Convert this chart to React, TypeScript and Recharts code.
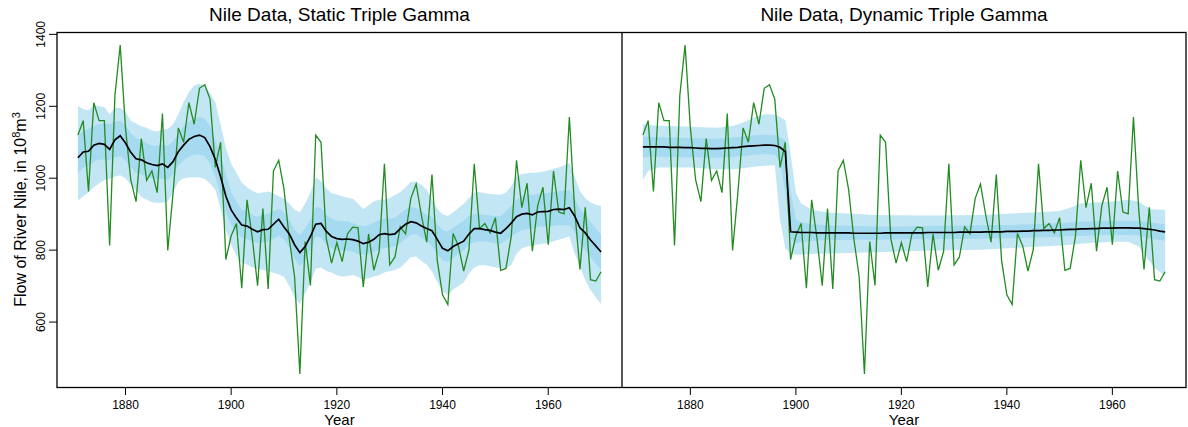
import React from 'react';
import { ComposedChart, Line, Area, XAxis, YAxis } from 'recharts';

const FIRST_YEAR = 1871;

// Annual flow of the Nile at Aswan, 1871-1970
const nileFlow = [
  1120, 1160, 963, 1210, 1160, 1160, 813, 1230, 1370, 1140,
  995, 935, 1110, 994, 1020, 960, 1180, 799, 958, 1140,
  1100, 1210, 1150, 1250, 1260, 1220, 1030, 1100, 774, 840,
  874, 694, 940, 833, 701, 916, 692, 1020, 1050, 969,
  831, 726, 456, 824, 702, 1120, 1100, 832, 764, 821,
  768, 845, 864, 862, 698, 845, 744, 796, 1040, 759,
  781, 865, 845, 944, 984, 897, 822, 1010, 771, 676,
  649, 846, 812, 742, 801, 1040, 860, 874, 848, 890,
  744, 749, 838, 1050, 918, 986, 797, 923, 975, 815,
  1020, 906, 901, 1170, 912, 746, 919, 718, 714, 740,
];

// Static triple gamma: fitted level and bands
const staticFit = [
  1057, 1073, 1075, 1092, 1097, 1094, 1080, 1107, 1118, 1098,
  1072, 1054, 1051, 1043, 1038, 1035, 1040, 1030, 1046, 1074,
  1092, 1108, 1116, 1120, 1113, 1088, 1052, 1004, 950, 912,
  889, 870, 867, 858, 851, 857, 858, 872, 886, 864,
  845, 815, 793, 810, 838, 872, 874, 852, 838, 832,
  830, 831, 829, 825, 818, 822, 830, 843, 846, 843,
  845, 860, 872, 879, 876, 867, 860, 854, 830, 805,
  798, 810, 818, 825, 845, 860, 860, 857, 855, 850,
  847, 860, 875, 893, 900, 902, 898, 906, 907, 908,
  913, 914, 913, 918, 895, 862, 848, 828, 812, 795,
];
const staticOuterLo = [
  938, 950, 960, 975, 985, 995, 998, 1005, 1008, 1000,
  982, 965, 948, 940, 933, 932, 932, 935, 960, 990,
  1000, 1002, 1003, 1002, 998, 985, 968, 915, 855, 815,
  785, 765, 760, 752, 748, 745, 741, 737, 732, 725,
  700, 668, 650, 680, 710, 748, 752, 742, 738, 730,
  727, 728, 731, 725, 717, 722, 727, 730, 738, 742,
  745, 752, 765, 780, 782, 770, 760, 740, 712, 685,
  676, 690, 700, 710, 735, 752, 758, 758, 755, 752,
  750, 750, 758, 790, 805, 810, 812, 816, 818, 820,
  825, 829, 834, 838, 790, 755, 717, 690, 668, 650,
];
const staticOuterHi = [
  1201, 1192, 1188, 1203, 1200, 1198, 1178, 1195, 1195, 1185,
  1160, 1152, 1144, 1140, 1133, 1130, 1135, 1137, 1150, 1178,
  1212, 1240, 1258, 1263, 1257, 1236, 1212, 1150, 1085, 1040,
  1015, 988, 975, 965, 958, 960, 963, 958, 950, 943,
  930, 912, 905, 930, 960, 1003, 992, 972, 958, 955,
  950, 946, 943, 930, 914, 925, 936, 940, 940, 945,
  953, 962, 975, 990, 990, 982, 968, 940, 915, 900,
  895, 905, 917, 928, 945, 960, 962, 958, 956, 955,
  954, 960, 977, 1005, 1012, 1014, 1015, 1016, 1018, 1022,
  1026, 1030, 1036, 1042, 1005, 965, 944, 933, 926, 923,
];
const staticInnerLo = [
  1014, 1030, 1035, 1045, 1052, 1052, 1050, 1058, 1062, 1050,
  1030, 1015, 1010, 1005, 1000, 998, 998, 996, 1010, 1035,
  1050, 1060, 1065, 1066, 1062, 1040, 1005, 955, 905, 870,
  850, 835, 830, 824, 820, 822, 824, 832, 840, 830,
  808, 776, 755, 775, 800, 838, 835, 815, 805, 800,
  798, 798, 796, 790, 787, 790, 795, 802, 806, 808,
  810, 820, 832, 842, 845, 835, 824, 812, 790, 772,
  768, 778, 790, 800, 815, 822, 824, 824, 821, 819,
  818, 826, 838, 848, 855, 858, 860, 864, 866, 867,
  868, 869, 869, 870, 850, 820, 800, 780, 762, 745,
];
const staticInnerHi = [
  1120, 1132, 1137, 1145, 1150, 1152, 1150, 1158, 1160, 1148,
  1125, 1112, 1105, 1098, 1092, 1090, 1093, 1090, 1102, 1125,
  1145, 1158, 1165, 1170, 1165, 1145, 1105, 1062, 1010, 960,
  935, 912, 908, 898, 893, 898, 902, 908, 915, 905,
  885, 856, 842, 860, 885, 920, 918, 898, 888, 882,
  880, 880, 875, 870, 866, 870, 876, 884, 888, 887,
  890, 902, 914, 920, 917, 908, 898, 893, 872, 855,
  852, 862, 872, 882, 895, 900, 900, 898, 896, 895,
  894, 908, 922, 940, 950, 954, 953, 957, 958, 959,
  962, 964, 965, 968, 945, 915, 898, 878, 860, 842,
];

// Dynamic triple gamma: fitted level
const dynamicFit = [
  1087, 1087, 1087, 1087, 1087, 1086, 1086, 1086, 1085, 1085,
  1084, 1083, 1083, 1082, 1082, 1083, 1084, 1085, 1086, 1088,
  1089, 1090, 1091, 1092, 1092, 1091, 1086, 1074, 851, 850,
  849, 849, 849, 848, 848, 848, 848, 848, 848, 848,
  847, 847, 847, 847, 847, 847, 848, 848, 848, 848,
  848, 848, 848, 848, 849, 849, 849, 849, 849, 849,
  850, 850, 850, 850, 850, 851, 851, 851, 851, 852,
  852, 852, 853, 853, 854, 854, 855, 855, 856, 856,
  857, 858, 858, 859, 859, 860, 860, 861, 861, 861,
  862, 862, 862, 861, 861, 860, 858, 856, 853, 851,
];
// Dynamic triple gamma bands, read at these years
const dynBandYears = [
  1871, 1872, 1874, 1880, 1885, 1888, 1890, 1892, 1894, 1896,
  1897, 1898, 1899, 1900, 1901, 1903, 1906, 1910, 1915, 1920,
  1925, 1930, 1935, 1940, 1945, 1950, 1952, 1954, 1956, 1960,
  1963, 1965, 1966, 1967, 1968, 1970,
];
const dynOuterLo = [
  995, 1020, 1030, 1030, 1025, 1025, 1028, 1032, 1035, 1036,
  885, 805, 790, 788, 787, 789, 791, 792, 794, 796,
  798, 800, 801, 805, 809, 813, 815, 818, 820, 823,
  823, 810, 790, 770, 750, 728,
];
const dynOuterHi = [
  1151, 1148, 1146, 1143, 1140, 1145, 1155, 1168, 1178, 1177,
  1170, 1162, 1070, 960, 930, 912, 905, 902, 898, 897,
  896, 897, 898, 901, 905, 909, 918, 930, 932, 935,
  940, 935, 925, 916, 913, 912,
];
const dynInnerLo = [
  1058, 1060, 1060, 1058, 1057, 1059, 1062, 1065, 1067, 1066,
  1045, 960, 830, 818, 822, 826, 828, 829, 829, 830,
  830, 831, 832, 833, 835, 837, 839, 840, 841, 842,
  842, 840, 836, 833, 830, 826,
];
const dynInnerHi = [
  1116, 1115, 1114, 1112, 1110, 1113, 1116, 1119, 1121, 1120,
  1114, 1105, 960, 885, 878, 872, 869, 868, 866, 866,
  867, 868, 869, 870, 872, 875, 877, 879, 880, 881,
  882, 881, 879, 877, 875, 872,
];

const xTicks = [1880, 1900, 1920, 1940, 1960];
const yTicks = [600, 800, 1000, 1200, 1400];
const titles = ['Nile Data, Static Triple Gamma', 'Nile Data, Dynamic Triple Gamma'];
const xLabel = 'Year';

const FONT = '"Liberation Sans", Arial, Helvetica, sans-serif';
const X_DOMAIN: [number, number] = [1867.04, 1973.96];
const Y_DOMAIN: [number, number] = [419.44, 1406.56];
const BAND_FILL = '#87CEEB';

const staticRows = nileFlow.map((v, i) => ({
  year: FIRST_YEAR + i,
  flow: v,
  fit: staticFit[i],
  outer: [staticOuterLo[i], staticOuterHi[i]],
  inner: [staticInnerLo[i], staticInnerHi[i]],
}));
const dynamicRows = nileFlow.map((v, i) => ({
  year: FIRST_YEAR + i,
  flow: v,
  fit: dynamicFit[i],
}));
const dynBandRows = dynBandYears.map((y, i) => ({
  year: y,
  outer: [dynOuterLo[i], dynOuterHi[i]],
  inner: [dynInnerLo[i], dynInnerHi[i]],
}));

function YTick(props: any) {
  const { x, y, payload } = props;
  return (
    <text
      x={x}
      y={y}
      transform={`rotate(-90 ${x} ${y})`}
      textAnchor="middle"
      fontSize={12}
      fontFamily={FONT}
      fill="#000"
    >
      {payload.value}
    </text>
  );
}

function Panel(props: { rows: any[]; bandRows?: any[]; width: number; left: number; showY: boolean }) {
  const { rows, bandRows, width, left, showY } = props;
  return (
    <div style={{ position: 'absolute', left, top: 0 }}>
      <ComposedChart
        width={width}
        height={427}
        data={rows}
        margin={{ top: 32, right: 0, bottom: 0, left: 0 }}
      >
        <XAxis
          dataKey="year"
          type="number"
          domain={X_DOMAIN}
          allowDataOverflow
          ticks={xTicks}
          height={40}
          axisLine={false}
          tickLine={{ stroke: '#000', strokeWidth: 1 }}
          tickSize={8}
          tickMargin={5}
          tick={{ fill: '#000', fontSize: 12, fontFamily: FONT }}
          interval={0}
        />
        <YAxis
          type="number"
          domain={Y_DOMAIN}
          allowDataOverflow
          ticks={yTicks}
          width={57}
          hide={!showY}
          axisLine={false}
          tickLine={{ stroke: '#000', strokeWidth: 1 }}
          tickSize={8}
          tickMargin={3.5}
          tick={<YTick />}
          interval={0}
        />
        <Area
          data={bandRows}
          dataKey="outer"
          type="linear"
          stroke="none"
          fill={BAND_FILL}
          fillOpacity={0.5}
          dot={false}
          activeDot={false}
          isAnimationActive={false}
        />
        <Area
          data={bandRows}
          dataKey="inner"
          type="linear"
          stroke="none"
          fill={BAND_FILL}
          fillOpacity={0.5}
          dot={false}
          activeDot={false}
          isAnimationActive={false}
        />
        <Line
          dataKey="flow"
          type="linear"
          stroke="#228B22"
          strokeWidth={1.3}
          dot={false}
          activeDot={false}
          isAnimationActive={false}
        />
        <Line
          dataKey="fit"
          type="linear"
          stroke="#000"
          strokeWidth={1.7}
          dot={false}
          activeDot={false}
          isAnimationActive={false}
        />
      </ComposedChart>
    </div>
  );
}

export default function App() {
  return (
    <div style={{ position: 'absolute', left: 0, top: 0, width: 1188, height: 427, background: '#fff', fontFamily: FONT }}>
      <Panel rows={staticRows} width={622} left={0} showY={true} />
      <Panel rows={dynamicRows} bandRows={dynBandRows} width={564} left={622} showY={false} />
      <svg
        width={1188}
        height={427}
        style={{ position: 'absolute', left: 0, top: 0, pointerEvents: 'none' }}
      >
        <rect x={57} y={32.5} width={1129} height={355} fill="none" stroke="#000" strokeWidth={1.3} />
        <line x1={622} y1={32.5} x2={622} y2={387.5} stroke="#000" strokeWidth={1.3} />
        <text x={339.5} y={21} textAnchor="middle" fontSize={19} fontFamily={FONT} fill="#000">{titles[0]}</text>
        <text x={904} y={21} textAnchor="middle" fontSize={19} fontFamily={FONT} fill="#000">{titles[1]}</text>
        <text x={339.5} y={425} textAnchor="middle" fontSize={15} fontFamily={FONT} fill="#000">{xLabel}</text>
        <text x={904} y={425} textAnchor="middle" fontSize={15} fontFamily={FONT} fill="#000">{xLabel}</text>
        <text
          transform="rotate(-90)"
          x={-209.5}
          y={26}
          textAnchor="middle"
          fontSize={16}
          fontFamily={FONT}
          fill="#000"
        >
          Flow of River Nile, in 10<tspan dy={-6} fontSize={11}>8</tspan>
          <tspan dy={6}>m</tspan>
          <tspan dy={-6} fontSize={11}>3</tspan>
        </text>
      </svg>
    </div>
  );
}
